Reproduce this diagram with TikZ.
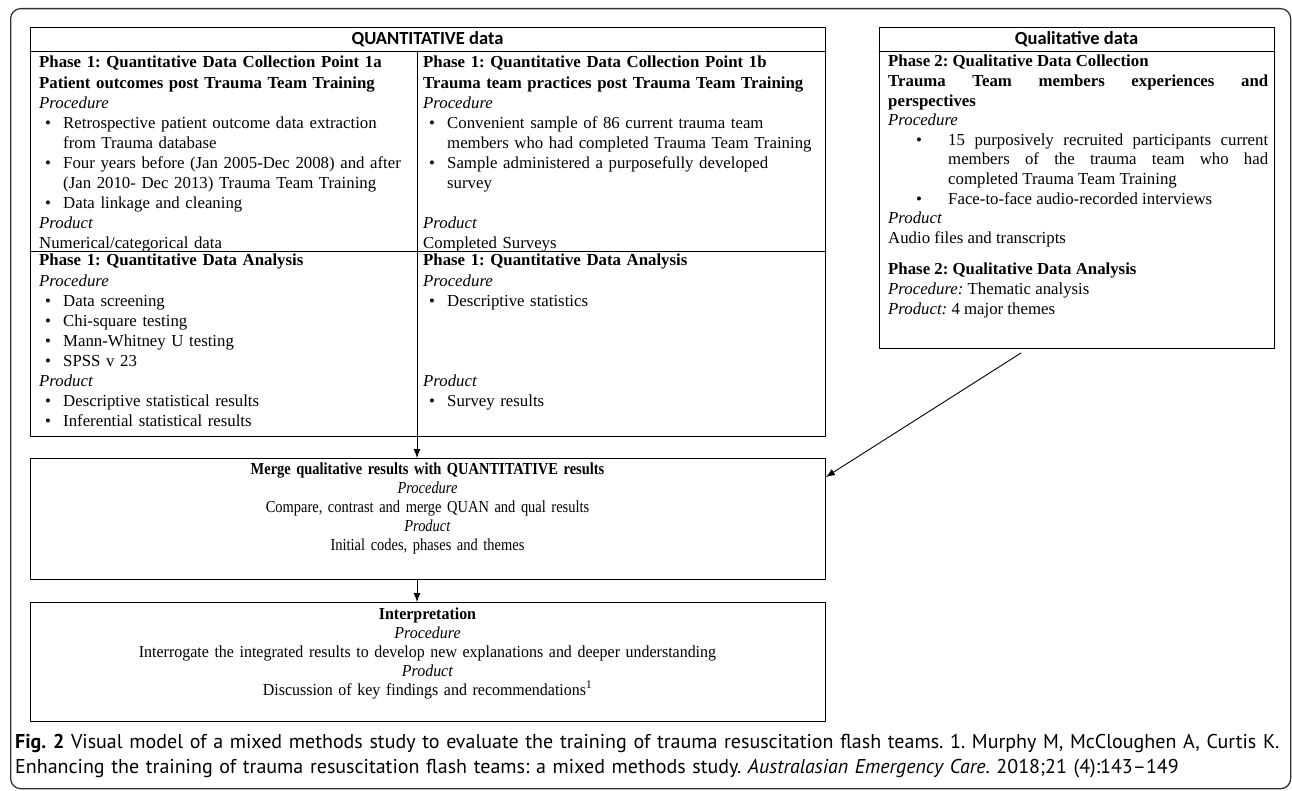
\documentclass[tikz,border=0pt]{standalone}
\usepackage{fontspec}
\setmainfont{Liberation Serif}
\newfontfamily\headfont{Carlito}
\newfontfamily\mergefont[FakeStretch=0.86]{Liberation Serif}
\newfontfamily\interpfont[FakeStretch=0.95]{Liberation Serif}
\newfontfamily\capfont{PT Sans}
\usetikzlibrary{positioning,arrows.meta}
\tikzset{>={Latex[length=9pt,width=7pt]}}
\frenchspacing

\newcommand\bitem[1]{\par\hangindent=24pt\hangafter=1\noindent
  \makebox[24pt][l]{\hspace{6pt}\textbullet}#1}
\newcommand\qitem[1]{\par\hangindent=60pt\hangafter=1\noindent
  \makebox[60pt][l]{\hspace{28pt}\textbullet}#1}

\begin{document}
\begin{tikzpicture}[x=1pt, y=-1pt,
                    line cap=round, line join=round,
                    frame/.style={draw=black!80, line width=1.3pt, rounded corners=10pt,
                                  anchor=north west, inner sep=0pt},
                    box/.style={draw, line width=0.9pt, anchor=north west, inner sep=0pt},
                    head/.style={anchor=base, inner sep=0pt, font=\headfont\bfseries\fontsize{18.5}{20}\selectfont},
                    cell/.style={anchor=base west, inner sep=0pt, text width=#1, align=left,
                                 font=\fontsize{16.8}{20.1}\selectfont},
                    cell/.default=370,
                    midtext/.style={anchor=base, inner sep=0pt, text width=790, align=center,
                                    font=#1\fontsize{16.8}{19}\selectfont},
                    midtext/.default=\mergefont,
                    link/.style={->, line width=0.9pt}]
  \useasboundingbox (0,0) rectangle (1292,791);
  \node[frame, minimum width=1280, minimum height=780] (frm) at (10,8) {};

  % QUANTITATIVE table
  \node[box, minimum width=795, minimum height=409] (quan) at (30,27) {};
  \node[head] (quanhead) at (427.5,45) {QUANTITATIVE data};
  \draw[line width=0.9pt] ([yshift=-24pt]quan.north west) -- ([yshift=-24pt]quan.north east);
  \draw[line width=0.9pt] ([yshift=-224pt]quan.north west) -- ([yshift=-224pt]quan.north east);
  \coordinate (divtop) at (417,51);
  \coordinate (divbot) at (417,436);
  \draw[line width=0.9pt] (divtop) -- (divbot);

  \node[cell=372] (colla) at (39,68) {%
    \textbf{Phase 1: Quantitative Data Collection Point 1a}\\
    \textbf{Patient outcomes post Trauma Team Training}\\
    \textit{Procedure}
    \bitem{Retrospective patient outcome data extraction\newline from Trauma database}
    \bitem{Four years before (Jan 2005-Dec 2008) and after\newline (Jan 2010- Dec 2013) Trauma Team Training}
    \bitem{Data linkage and cleaning}
    \par\textit{Product}\par
    Numerical/categorical data};
  \node[cell=400] (collb) at (423,68) {%
    \textbf{Phase 1: Quantitative Data Collection Point 1b}\\
    \textbf{Trauma team practices post Trauma Team Training}\\
    \textit{Procedure}
    \bitem{Convenient sample of 86 current trauma team\newline members who had completed Trauma Team Training}
    \bitem{Sample administered a purposefully developed\newline survey}
    \par\mbox{}\par\textit{Product}\par
    Completed Surveys};
  \node[cell=372] (anala) at (39,266) {%
    \textbf{Phase 1: Quantitative Data Analysis}\\
    \textit{Procedure}
    \bitem{Data screening}
    \bitem{Chi-square testing}
    \bitem{Mann-Whitney U testing}
    \bitem{SPSS v 23}
    \par\textit{Product}
    \bitem{Descriptive statistical results}
    \bitem{Inferential statistical results}};
  \node[cell=400] (analb) at (423,266) {%
    \textbf{Phase 1: Quantitative Data Analysis}\\
    \textit{Procedure}
    \bitem{Descriptive statistics}
    \par\mbox{}\par\mbox{}\par\mbox{}
    \par\textit{Product}
    \bitem{Survey results}};

  % Qualitative box
  \node[box, minimum width=395, minimum height=321] (qual) at (879,27) {};
  \node[head] (qualhead) at (1076.5,45) {Qualitative data};
  \draw[line width=0.9pt] ([yshift=-24pt]qual.north west) -- ([yshift=-24pt]qual.north east);
  \node[cell=380, align=justify, font=\fontsize{16.8}{19.6}\selectfont] (qualtext) at (888,67) {%
    \textbf{Phase 2: Qualitative Data Collection}\par
    \textbf{Trauma Team members experiences and\linebreak perspectives}\par
    \textit{Procedure}
    \qitem{15 purposively recruited participants current\linebreak members of the trauma team who had\linebreak completed Trauma Team Training}
    \qitem{Face-to-face audio-recorded interviews}
    \par\noindent\textit{Product}\par
    Audio files and transcripts\par\vspace{12pt}
    \textbf{Phase 2: Qualitative Data Analysis}\par
    \textit{Procedure:} Thematic analysis\par
    \textit{Product:} 4 major themes};

  % merge and interpretation
  \node[box, minimum width=795, minimum height=121] (merge) at (30,458) {};
  \node[midtext] (mergetext) at (427.5,474) {%
    \textbf{Merge qualitative results with QUANTITATIVE results}\\
    \textit{Procedure}\\
    Compare, contrast and merge QUAN and qual results\\
    \textit{Product}\\
    Initial codes, phases and themes};
  \node[box, minimum width=795, minimum height=119] (interp) at (30,602) {};
  \node[midtext=\interpfont] (interptext) at (427.5,619) {%
    \textbf{Interpretation}\\
    \textit{Procedure}\\
    Interrogate the integrated results to develop new explanations and deeper understanding\\
    \textit{Product}\\
    Discussion of key findings and recommendations\textsuperscript{1}};

  % arrows
  \draw[link] (divbot) -- (divbot |- merge.north);
  \draw[link] (merge.south -| divbot) -- (interp.north -| divbot);
  \coordinate (qualtail) at (1021,353);
  \draw[link] (qualtail) -- ([yshift=-19pt]merge.north east);

  % caption
  \node[anchor=base west, inner sep=0pt, text width=1300, align=left,
        font=\capfont\fontsize{20}{25}\selectfont] (caption) at (15,748) {%
    \textbf{Fig. 2} Visual model of a mixed methods study to evaluate the training of trauma resuscitation flash teams. 1. Murphy M, McCloughen A, Curtis K.\\
    Enhancing the training of trauma resuscitation flash teams: a mixed methods study. \textit{Australasian Emergency Care}. 2018;21 (4):143–149};
\end{tikzpicture}
\end{document}
